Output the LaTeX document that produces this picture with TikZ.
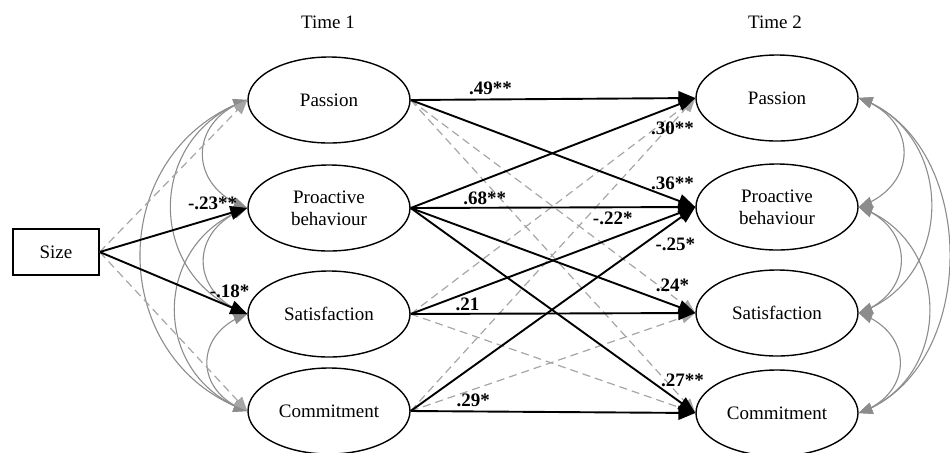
\documentclass[tikz,border=0pt]{standalone}
\usepackage{fontspec}
\setmainfont{Liberation Serif}
\usetikzlibrary{shapes.geometric}
\usetikzlibrary{arrows}

\begin{document}
\begin{tikzpicture}[x=0.5pt,y=-0.5pt,
lat/.style={draw,ellipse,line width=0.7pt,minimum width=81pt,minimum height=43pt,inner sep=0pt,align=center,font=\fontsize{9.5}{11}\selectfont},
obs/.style={draw,rectangle,line width=0.7pt,minimum width=43pt,minimum height=23pt,font=\fontsize{9.5}{11}\selectfont},
coef/.style={inner sep=1pt,font=\fontsize{9.5}{11}\selectfont\bfseries},
sigpath/.style={line width=0.95pt,-triangle 45},
nspath/.style={draw=black!35,line width=0.6pt,dash pattern=on 4pt off 2.5pt,-triangle 45},
cov/.style={draw=black!45,line width=0.55pt,triangle 45-triangle 45}]
\useasboundingbox (0,0) rectangle (950,452);
\draw
(328,22) node[font=\fontsize{9.5}{11}\selectfont](t1){Time 1}
(775,22) node[font=\fontsize{9.5}{11}\selectfont](t2){Time 2}
(56,252) node[obs](size){Size}
(329,100) node[lat](pas1){Passion}
(329,208) node[lat](pro1){Proactive\\behaviour}
(329,314) node[lat](sat1){Satisfaction}
(329,411) node[lat](com1){Commitment}
(777,98) node[lat](pas2){Passion}
(777,207) node[lat](pro2){Proactive\\behaviour}
(777,313) node[lat](sat2){Satisfaction}
(777,413) node[lat](com2){Commitment}
;
% correlations within each wave
\foreach \a/\b/\L in {pas1/pro1/1.5, pas1/sat1/1.3, pas1/com1/1.25, pro1/sat1/1.5, pro1/com1/1.3, sat1/com1/1.5}{
\draw[cov](\a.west) to[bend right=70,looseness=\L](\b.west);
}
\foreach \a/\b/\L in {pas2/pro2/1.5, pas2/sat2/1.23, pas2/com2/1.05, pro2/sat2/1.45, pro2/com2/1.25, sat2/com2/1.5}{
\draw[cov](\a.east) to[bend left=70,looseness=\L](\b.east);
}
% non significant paths
\foreach \x/\y in {size/pas1, size/com1, pas1/sat2, pas1/com2, sat1/pas2, sat1/com2, com1/pas2, com1/sat2}{
\draw[nspath](\x.east)--(\y.west);
}
% significant paths
\foreach \x/\y/\l/\p/\a/\d in {size/pro1/{-.23**}/0.765/south/3, size/sat1/{-.18*}/0.88/south/3,
pas1/pas2/{.49**}/0.28/south/1, pas1/pro2/{.36**}/0.92/south/3, pro1/pas2/{.30**}/0.92/north/-6,
pro1/pro2/{.68**}/0.26/south/0, pro1/sat2/{.24*}/0.92/south/5, pro1/com2/{.27**}/0.955/south/7,
sat1/pro2/{-.22*}/0.71/south/5, sat1/sat2/{.21}/0.2/south/0, com1/pro2/{-.25*}/0.93/north/-7,
com1/com2/{.29*}/0.22/south/1}{
\draw[sigpath](\x.east)--node[coef,pos=\p,anchor=\a,yshift=\d pt]{\l}(\y.west);
}
\end{tikzpicture}
\end{document}
